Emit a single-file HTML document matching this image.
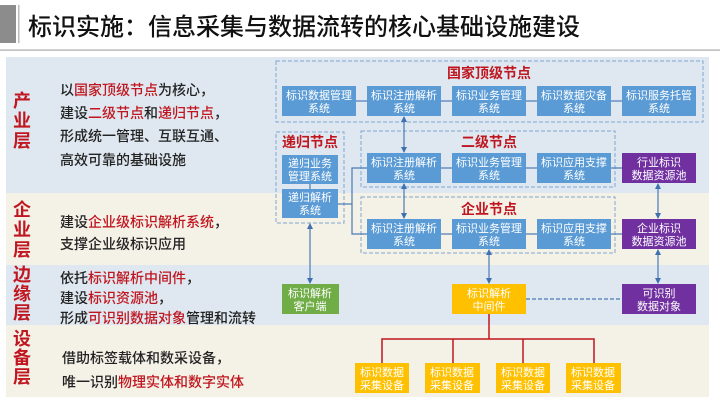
<!DOCTYPE html>
<html><head><meta charset="utf-8"><style>
html,body{margin:0;padding:0;background:#fff;}
svg{display:block;font-family:"Liberation Sans","Noto Sans CJK SC",sans-serif;}
.bx{fill:#5b9bd5;}
.bt{fill:#fff;font-size:11px;text-anchor:middle;}
.lt{font-size:14px;fill:#222;font-weight:500;}
.r{fill:#c0161f;}
.lbl{font-size:18px;fill:#c0161f;text-anchor:middle;font-weight:bold;}
.ttl{font-size:14px;fill:#c0161f;text-anchor:middle;font-weight:bold;}
.dash{fill:none;stroke:#7fa6cf;stroke-width:1;stroke-dasharray:4 2;}
.cn{stroke:#4a7ab5;stroke-width:1.2;fill:none;}
</style></head><body>
<svg width="720" height="405" viewBox="0 0 720 405">
<defs>
<marker id="a" viewBox="0 0 6 6" refX="5" refY="3" markerWidth="5" markerHeight="5" orient="auto-start-reverse"><path d="M0,0L6,3L0,6z" fill="#3f70b0"/></marker>
</defs>
<rect x="0" y="5" width="16" height="38" fill="#8c8c8c"/>
<rect x="18" y="5" width="1.5" height="38" fill="#bbb"/>
<text x="28" y="35" font-size="24" fill="#111" font-weight="500">标识实施：信息采集与数据流转的核心基础设施建设</text>
<rect x="0" y="49.5" width="720" height="1.2" fill="#aaa"/>
<rect x="6" y="57" width="703" height="136" fill="#dfe8f0"/>
<rect x="6" y="193" width="703" height="72" fill="#f4f1e7"/>
<rect x="6" y="265" width="703" height="60" fill="#dfe8f0"/>
<rect x="6" y="325" width="703" height="72" fill="#f4f1e7"/>
<text class="lbl"><tspan x="22" y="107">产</tspan><tspan x="22" y="127">业</tspan><tspan x="22" y="147">层</tspan></text>
<text class="lbl"><tspan x="22" y="216">企</tspan><tspan x="22" y="236">业</tspan><tspan x="22" y="256">层</tspan></text>
<text class="lbl"><tspan x="22" y="281">边</tspan><tspan x="22" y="300">缘</tspan><tspan x="22" y="319">层</tspan></text>
<text class="lbl"><tspan x="22" y="345">设</tspan><tspan x="22" y="364">备</tspan><tspan x="22" y="383">层</tspan></text>
<text class="lt" x="60" y="95">以<tspan class="r">国家顶级节点</tspan>为核心，</text>
<text class="lt" x="60" y="118">建设<tspan class="r">二级节点</tspan>和<tspan class="r">递归节点</tspan>，</text>
<text class="lt" x="60" y="141">形成统一管理、互联互通、</text>
<text class="lt" x="60" y="165">高效可靠的基础设施</text>
<text class="lt" x="60" y="227">建设<tspan class="r">企业级标识解析系统</tspan>，</text>
<text class="lt" x="60" y="249">支撑企业级标识应用</text>
<text class="lt" x="60" y="283">依托<tspan class="r">标识解析中间件</tspan>，</text>
<text class="lt" x="60" y="303">建设<tspan class="r">标识资源池</tspan>，</text>
<text class="lt" x="60" y="323">形成<tspan class="r">可识别数据对象</tspan>管理和流转</text>
<text class="lt" x="62" y="363">借助标签载体和数采设备，</text>
<text class="lt" x="62" y="387">唯一识别<tspan class="r">物理实体和数字实体</tspan></text>
<rect class="dash" x="276" y="61" width="427" height="61"/>
<rect class="dash" x="276" y="132" width="68" height="91"/>
<rect class="dash" x="361" y="131" width="254" height="56"/>
<rect class="dash" x="361" y="197" width="254" height="56"/>
<text class="ttl" x="489" y="78">国家顶级节点</text>
<text class="ttl" x="310" y="147">递归节点</text>
<text class="ttl" x="489" y="147">二级节点</text>
<text class="ttl" x="489" y="214">企业节点</text>
<g class="cn">
<line x1="356" y1="101" x2="367" y2="101"/><line x1="441" y1="101" x2="452" y2="101"/><line x1="526" y1="101" x2="537" y2="101"/><line x1="611" y1="101" x2="622" y2="101"/>
<line x1="441" y1="168" x2="452" y2="168"/><line x1="526" y1="168" x2="537" y2="168"/><line x1="611" y1="168" x2="622" y2="168"/>
<line x1="441" y1="234" x2="452" y2="234"/><line x1="526" y1="234" x2="537" y2="234"/><line x1="611" y1="234" x2="622" y2="234"/>
<line x1="310" y1="184" x2="310" y2="189"/>
<polyline points="338,204 352,204"/>
<polyline points="367,168 352,168 352,234 367,234"/>
<line x1="404" y1="117" x2="404" y2="152" marker-start="url(#a)" marker-end="url(#a)"/>
<line x1="404" y1="184" x2="404" y2="218" marker-start="url(#a)" marker-end="url(#a)"/>
<line x1="658" y1="184" x2="658" y2="218" marker-start="url(#a)" marker-end="url(#a)"/>
<line x1="658" y1="250" x2="658" y2="283" marker-start="url(#a)" marker-end="url(#a)"/>
<line x1="489" y1="250" x2="489" y2="283" marker-start="url(#a)" marker-end="url(#a)"/>
<line x1="310" y1="224" x2="310" y2="283" marker-start="url(#a)" marker-end="url(#a)"/>
<line x1="526" y1="299" x2="622" y2="299" stroke-dasharray="4 2"/>
</g>
<g stroke="#c0161f" stroke-width="1.5" fill="none">
<polyline points="489,314 489,339"/>
<polyline points="382,363 382,339 594,339 594,363"/>
<line x1="453" y1="339" x2="453" y2="363"/><line x1="523" y1="339" x2="523" y2="363"/>
</g>
<g>
<rect class="bx" x="282" y="86" width="74" height="30"/><text class="bt" x="319" y="99">标识数据管理</text><text class="bt" x="319" y="112">系统</text>
<rect class="bx" x="367" y="86" width="74" height="30"/><text class="bt" x="404" y="99">标识注册解析</text><text class="bt" x="404" y="112">系统</text>
<rect class="bx" x="452" y="86" width="74" height="30"/><text class="bt" x="489" y="99">标识业务管理</text><text class="bt" x="489" y="112">系统</text>
<rect class="bx" x="537" y="86" width="74" height="30"/><text class="bt" x="574" y="99">标识数据灾备</text><text class="bt" x="574" y="112">系统</text>
<rect class="bx" x="622" y="86" width="74" height="30"/><text class="bt" x="659" y="99">标识服务托管</text><text class="bt" x="659" y="112">系统</text>
<rect class="bx" x="282" y="155" width="56" height="29"/><text class="bt" x="310" y="167">递归业务</text><text class="bt" x="310" y="180">管理系统</text>
<rect class="bx" x="282" y="189" width="56" height="29"/><text class="bt" x="310" y="201">递归解析</text><text class="bt" x="310" y="214">系统</text>
<rect class="bx" x="367" y="153" width="74" height="30"/><text class="bt" x="404" y="166">标识注册解析</text><text class="bt" x="404" y="179">系统</text>
<rect class="bx" x="452" y="153" width="74" height="30"/><text class="bt" x="489" y="166">标识业务管理</text><text class="bt" x="489" y="179">系统</text>
<rect class="bx" x="537" y="153" width="74" height="30"/><text class="bt" x="574" y="166">标识应用支撑</text><text class="bt" x="574" y="179">系统</text>
<rect x="622" y="153" width="74" height="30" fill="#7030a0"/><text class="bt" x="659" y="166">行业标识</text><text class="bt" x="659" y="179">数据资源池</text>
<rect class="bx" x="367" y="219" width="74" height="30"/><text class="bt" x="404" y="232">标识注册解析</text><text class="bt" x="404" y="245">系统</text>
<rect class="bx" x="452" y="219" width="74" height="30"/><text class="bt" x="489" y="232">标识业务管理</text><text class="bt" x="489" y="245">系统</text>
<rect class="bx" x="537" y="219" width="74" height="30"/><text class="bt" x="574" y="232">标识应用支撑</text><text class="bt" x="574" y="245">系统</text>
<rect x="622" y="219" width="74" height="30" fill="#7030a0"/><text class="bt" x="659" y="232">企业标识</text><text class="bt" x="659" y="245">数据资源池</text>
<rect x="282" y="284" width="57" height="30" fill="#70ad47"/><text class="bt" x="310" y="297">标识解析</text><text class="bt" x="310" y="310">客户端</text>
<rect x="452" y="284" width="74" height="30" fill="#ffc000"/><text class="bt" x="489" y="297">标识解析</text><text class="bt" x="489" y="310">中间件</text>
<rect x="622" y="284" width="74" height="30" fill="#7030a0"/><text class="bt" x="659" y="297">可识别</text><text class="bt" x="659" y="310">数据对象</text>
<rect x="355" y="363" width="54" height="30" fill="#ffc000"/><text class="bt" x="382" y="376">标识数据</text><text class="bt" x="382" y="389">采集设备</text>
<rect x="425" y="363" width="55" height="30" fill="#ffc000"/><text class="bt" x="452" y="376">标识数据</text><text class="bt" x="452" y="389">采集设备</text>
<rect x="496" y="363" width="54" height="30" fill="#ffc000"/><text class="bt" x="523" y="376">标识数据</text><text class="bt" x="523" y="389">采集设备</text>
<rect x="566" y="363" width="55" height="30" fill="#ffc000"/><text class="bt" x="593" y="376">标识数据</text><text class="bt" x="593" y="389">采集设备</text>
</g>
</svg>
</body></html>
